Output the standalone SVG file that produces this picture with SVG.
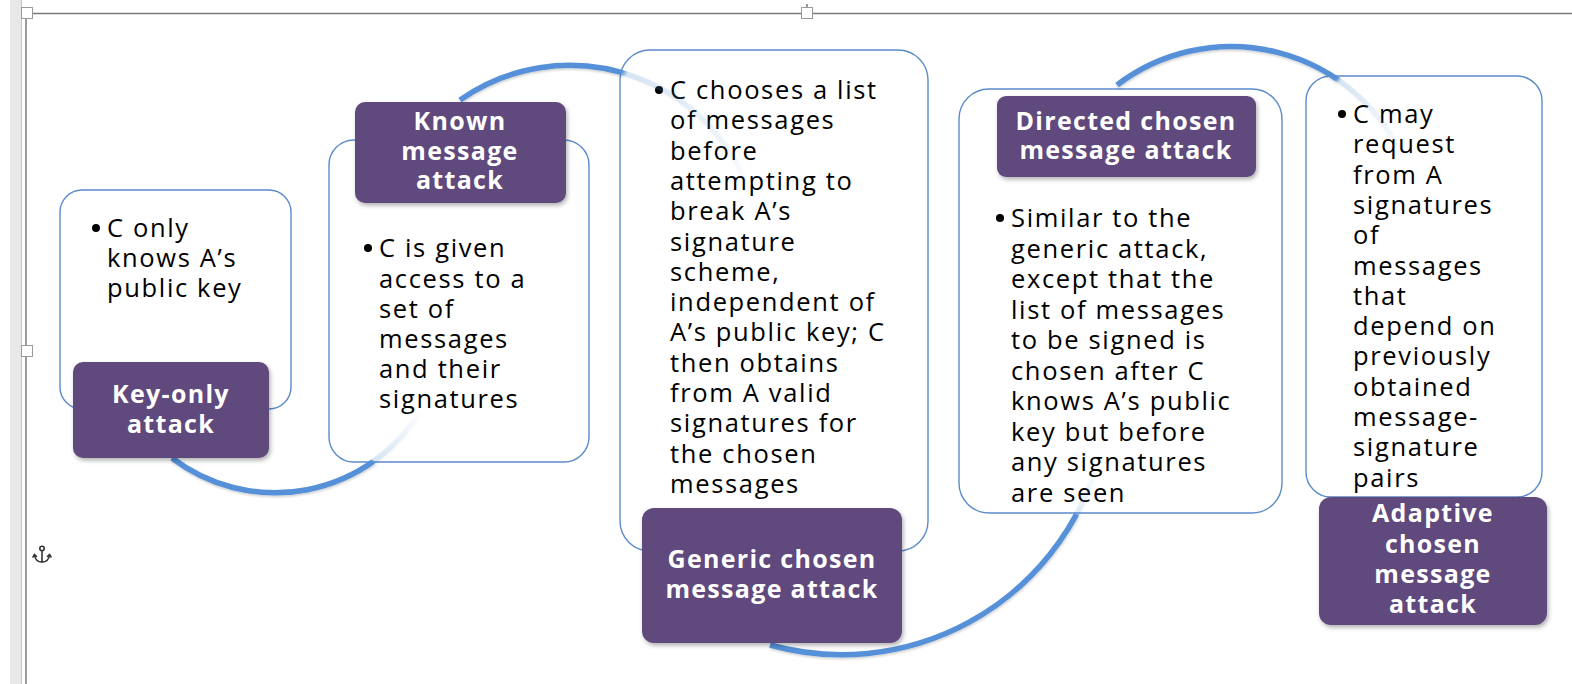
<svg xmlns="http://www.w3.org/2000/svg" width="1572" height="684" viewBox="0 0 1572 684">
  <style>
    .card { fill: #ffffff; stroke: #5B8BC9; stroke-width: 1.4; }
    .tag { fill: #604A7B; filter: url(#shadow); }
    .tagtxt { font-family: "Open Sans", Lato, sans-serif; font-weight: 700; font-size: 25px; letter-spacing: 1.3px; fill: #ffffff; text-anchor: middle; }
    .body { font-family: "Open Sans", Lato, sans-serif; font-size: 25.5px; letter-spacing: 1.65px; fill: #000000; }
    .dot { fill: #000000; }
    .arc { fill: none; stroke-width: 5.5; stroke-linecap: butt; }
    .handle { fill: #ffffff; stroke: #9a9a9a; stroke-width: 1; }
  </style>
  <defs>
    <filter id="shadow" x="-10%" y="-10%" width="125%" height="130%">
      <feDropShadow dx="1.5" dy="2.5" stdDeviation="2" flood-color="#000000" flood-opacity="0.3"/>
    </filter>
    <filter id="arcShadow" x="-10%" y="-10%" width="120%" height="130%">
      <feDropShadow dx="0.5" dy="1.5" stdDeviation="1" flood-color="#000000" flood-opacity="0.2"/>
    </filter>
    <!-- each bend fades out once it enters the next card -->
    <linearGradient id="fade1" gradientUnits="userSpaceOnUse" x1="372" y1="462" x2="421" y2="410">
      <stop offset="0" stop-color="#5590D8" stop-opacity="1"/>
      <stop offset="0.04" stop-color="#5590D8" stop-opacity="0.2"/>
      <stop offset="1" stop-color="#5590D8" stop-opacity="0"/>
    </linearGradient>
    <linearGradient id="fade2" gradientUnits="userSpaceOnUse" x1="620" y1="73" x2="755" y2="210">
      <stop offset="0" stop-color="#5590D8" stop-opacity="1"/>
      <stop offset="0.03" stop-color="#5590D8" stop-opacity="0.2"/>
      <stop offset="1" stop-color="#5590D8" stop-opacity="0"/>
    </linearGradient>
    <linearGradient id="fade3" gradientUnits="userSpaceOnUse" x1="1074" y1="514" x2="1096" y2="466">
      <stop offset="0" stop-color="#5590D8" stop-opacity="1"/>
      <stop offset="0.05" stop-color="#5590D8" stop-opacity="0.15"/>
      <stop offset="1" stop-color="#5590D8" stop-opacity="0"/>
    </linearGradient>
    <linearGradient id="fade4" gradientUnits="userSpaceOnUse" x1="1337" y1="78" x2="1403" y2="158">
      <stop offset="0" stop-color="#5590D8" stop-opacity="1"/>
      <stop offset="0.04" stop-color="#5590D8" stop-opacity="0.2"/>
      <stop offset="1" stop-color="#5590D8" stop-opacity="0"/>
    </linearGradient>
  </defs>

  <rect x="0" y="0" width="1572" height="684" fill="#ffffff"/>

  <!-- editor frame -->
  <g id="frame">
    <rect x="10" y="0" width="11" height="684" fill="#e8e8e8"/>
    <line x1="21.5" y1="0" x2="21.5" y2="684" stroke="#c6c6c6" stroke-width="1"/>
    <line x1="26" y1="13.5" x2="26" y2="684" stroke="#7a7a7a" stroke-width="1.5"/>
    <line x1="26" y1="13.5" x2="1572" y2="13.5" stroke="#7a7a7a" stroke-width="1.5"/>
    <rect class="handle" x="21.5" y="7.5" width="11" height="11"/>
    <line x1="807" y1="4" x2="807" y2="8" stroke="#7a7a7a" stroke-width="1.5"/>
    <rect class="handle" x="801.5" y="7.5" width="11" height="11"/>
    <rect class="handle" x="21.5" y="345.5" width="11" height="11"/>
    <g id="anchor" fill="none" stroke="#333333" stroke-width="1.6" stroke-linecap="round">
      <circle cx="42" cy="548.5" r="2.2"/>
      <line x1="42" y1="551" x2="42" y2="562"/>
      <path d="M34.5 555 Q35.5 562 42 562 Q48.5 562 49.5 555"/>
      <path d="M33 557 L34.5 554.5 L36.5 556.5"/>
      <path d="M51 557 L49.5 554.5 L47.5 556.5"/>
    </g>
  </g>

  <!-- text cards -->
  <g id="card-key-only">
    <rect class="card" x="60" y="190" width="231" height="219" rx="22"/>
    <circle class="dot" cx="96" cy="228" r="4"/>
    <text class="body"><tspan x="107" y="237">C only</tspan><tspan x="107" y="267">knows A’s</tspan><tspan x="107" y="297">public key</tspan></text>
  </g>
  <g id="card-known">
    <rect class="card" x="329" y="140" width="260" height="322" rx="25"/>
    <circle class="dot" cx="368" cy="248" r="4"/>
    <text class="body"><tspan x="379" y="257">C is given</tspan><tspan x="379" y="288">access to a</tspan><tspan x="379" y="318">set of</tspan><tspan x="379" y="348">messages</tspan><tspan x="379" y="378">and their</tspan><tspan x="379" y="408">signatures</tspan></text>
  </g>
  <g id="card-generic">
    <rect class="card" x="620" y="50" width="308" height="501" rx="30"/>
    <circle class="dot" cx="659" cy="90" r="4"/>
    <text class="body"><tspan x="670" y="99">C chooses a list</tspan><tspan x="670" y="129.3">of messages</tspan><tspan x="670" y="159.6">before</tspan><tspan x="670" y="189.9">attempting to</tspan><tspan x="670" y="220.2">break A’s</tspan><tspan x="670" y="250.5">signature</tspan><tspan x="670" y="280.8">scheme,</tspan><tspan x="670" y="311.1">independent of</tspan><tspan x="670" y="341.4">A’s public key; C</tspan><tspan x="670" y="371.7">then obtains</tspan><tspan x="670" y="402">from A valid</tspan><tspan x="670" y="432.3">signatures for</tspan><tspan x="670" y="462.6">the chosen</tspan><tspan x="670" y="492.9">messages</tspan></text>
  </g>
  <g id="card-directed">
    <rect class="card" x="959" y="89" width="323" height="424" rx="30"/>
    <circle class="dot" cx="1000" cy="218" r="4"/>
    <text class="body"><tspan x="1011" y="227">Similar to the</tspan><tspan x="1011" y="257.5">generic attack,</tspan><tspan x="1011" y="288">except that the</tspan><tspan x="1011" y="318.5">list of messages</tspan><tspan x="1011" y="349">to be signed is</tspan><tspan x="1011" y="379.5">chosen after C</tspan><tspan x="1011" y="410">knows A’s public</tspan><tspan x="1011" y="440.5">key but before</tspan><tspan x="1011" y="471">any signatures</tspan><tspan x="1011" y="501.5">are seen</tspan></text>
  </g>
  <g id="card-adaptive">
    <rect class="card" x="1306" y="76" width="236" height="421" rx="25"/>
    <circle class="dot" cx="1342" cy="114" r="4"/>
    <text class="body"><tspan x="1353" y="123">C may</tspan><tspan x="1353" y="153.3">request</tspan><tspan x="1353" y="183.6">from A</tspan><tspan x="1353" y="213.9">signatures</tspan><tspan x="1353" y="244.2">of</tspan><tspan x="1353" y="274.5">messages</tspan><tspan x="1353" y="304.8">that</tspan><tspan x="1353" y="335.1">depend on</tspan><tspan x="1353" y="365.4">previously</tspan><tspan x="1353" y="395.7">obtained</tspan><tspan x="1353" y="426">message-</tspan><tspan x="1353" y="456.3">signature</tspan><tspan x="1353" y="486.6">pairs</tspan></text>
  </g>

  <!-- bending connectors between the steps -->
  <g id="connectors" filter="url(#arcShadow)">
    <path class="arc" stroke="url(#fade1)" d="M172 458 A170 170 0 0 0 421 410"/>
    <path class="arc" stroke="url(#fade2)" d="M460 100 A191 191 0 0 1 755 210"/>
    <path class="arc" stroke="url(#fade3)" d="M770 645 A267 267 0 0 0 1096 468"/>
    <path class="arc" stroke="url(#fade4)" d="M1117 85 A188.4 188.4 0 0 1 1403 158"/>
  </g>

  <!-- step titles -->
  <g id="tag-key-only">
    <rect class="tag" x="73" y="362" width="196" height="96" rx="10"/>
    <text class="tagtxt"><tspan x="171" y="403">Key-only</tspan><tspan x="171" y="433">attack</tspan></text>
  </g>
  <g id="tag-known">
    <rect class="tag" x="355" y="102" width="211" height="101" rx="10"/>
    <text class="tagtxt"><tspan x="460" y="130">Known</tspan><tspan x="460" y="160">message</tspan><tspan x="460" y="189">attack</tspan></text>
  </g>
  <g id="tag-generic">
    <rect class="tag" x="642" y="508" width="260" height="135" rx="12"/>
    <text class="tagtxt"><tspan x="772" y="568">Generic chosen</tspan><tspan x="772" y="598">message attack</tspan></text>
  </g>
  <g id="tag-directed">
    <rect class="tag" x="997" y="96" width="259" height="81" rx="9"/>
    <text class="tagtxt"><tspan x="1126" y="130">Directed chosen</tspan><tspan x="1126" y="159">message attack</tspan></text>
  </g>
  <g id="tag-adaptive">
    <rect class="tag" x="1319" y="497" width="228" height="128" rx="12"/>
    <text class="tagtxt"><tspan x="1433" y="522">Adaptive</tspan><tspan x="1433" y="553">chosen</tspan><tspan x="1433" y="583">message</tspan><tspan x="1433" y="613">attack</tspan></text>
  </g>
</svg>
